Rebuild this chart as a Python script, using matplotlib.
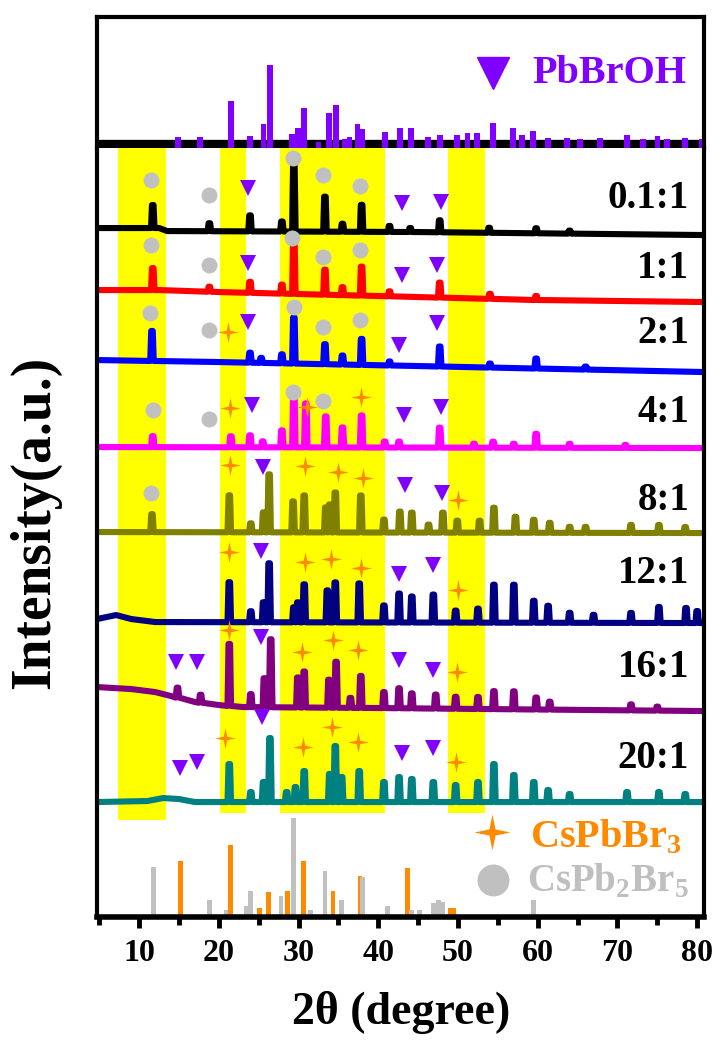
import numpy as np
import matplotlib.pyplot as plt
from matplotlib.path import Path

plt.rcParams['font.family'] = ['Liberation Serif', 'DejaVu Serif']
plt.rcParams['font.weight'] = 'bold'
plt.rcParams['mathtext.fontset'] = 'custom'
plt.rcParams['mathtext.rm'] = 'Liberation Serif:bold'
plt.rcParams['mathtext.bf'] = 'Liberation Serif:bold'

# ---- data ----
samples = ['0.1:1', '1:1', '2:1', '4:1', '8:1', '12:1', '16:1', '20:1']
colors = ['black', '#FF0000', '#0000FF', '#FF00FF', '#808000', '#000080', '#800080', '#008080']
offsets = [682, 615, 545, 469, 384, 294, 206, 115]
label_h = [37, 34, 39, 36, 33, 50, 44, 44]

# baseline anchors (2theta, a.u. above offset)
base_x = [
    [4.7, 12.5, 13.5, 45, 80.8],
    [4.7, 12.5, 20, 40, 60, 80.8],
    [4.7, 20, 45, 80.8],
    [4.7, 80.8],
    [4.7, 80.8],
    [4.7, 7.1, 9, 12, 80.8],
    [4.7, 9, 12, 14, 17, 20, 23, 40, 80.8],
    [4.7, 11, 13, 15, 17, 80.8],
]
base_y = [
    [7, 7, 4, 3, 0],
    [12, 12, 10, 6, 2, 0],
    [12, 10, 6, 0],
    [1, 0],
    [1, 0],
    [4, 8, 4, 1, 0],
    [24, 22, 19, 15, 9, 6, 4, 3, 0],
    [0, 1, 4, 3, 0, 0],
]

# peak positions and heights above local baseline
peak_x = [
    [11.7, 18.8, 23.9, 27.9, 29.4, 33.3, 35.5, 37.9, 41.4, 44.0, 47.7, 53.9, 59.8, 64.0],
    [11.7, 18.8, 23.9, 27.9, 29.4, 33.3, 35.5, 37.9, 41.4, 47.7, 54.0, 59.8],
    [11.6, 23.9, 25.3, 27.9, 29.4, 33.3, 35.5, 37.9, 41.4, 47.7, 54.0, 59.8, 66.0],
    [11.7, 21.5, 23.9, 25.5, 27.9, 29.4, 30.9, 33.4, 35.5, 37.9, 40.8, 42.6, 47.7, 52.0,
     54.4, 57.0, 59.8, 64.0, 71.0],
    [11.6, 21.3, 24.0, 25.6, 26.3, 29.3, 30.7, 33.4, 33.9, 34.6, 37.8, 40.7, 42.7, 44.2,
     46.3, 48.1, 49.9, 52.7, 54.5, 57.2, 59.5, 61.5, 64.0, 66.0, 71.7, 75.2, 78.5],
    [21.3, 24.0, 25.6, 26.3, 29.4, 29.9, 30.7, 33.6, 34.6, 37.6, 40.7, 42.6, 44.2, 46.9,
     49.7, 52.5, 54.5, 57.0, 59.5, 61.3, 64.0, 67.0, 71.7, 75.2, 78.6, 80.0],
    [14.8, 17.7, 21.3, 24.0, 25.7, 26.5, 29.9, 30.7, 33.8, 34.7, 36.5, 37.8, 40.7, 42.6,
     44.2, 47.2, 49.7, 52.5, 54.5, 57.0, 59.8, 61.5, 71.7, 75.0],
    [21.3, 24.0, 25.6, 26.4, 28.5, 29.6, 30.7, 33.9, 34.6, 35.4, 37.6, 40.7, 42.6, 44.2,
     46.9, 49.7, 52.5, 54.5, 57.0, 59.5, 61.3, 64.0, 71.2, 75.2, 78.5],
]
peak_h = [
    [23, 8, 16, 10, 66, 35, 8, 27, 6, 4, 12, 5, 5, 3],
    [22, 5, 11, 9, 55, 25, 8, 29, 5, 15, 5, 4],
    [30, 10, 5, 9, 46, 20, 9, 26, 4, 20, 4, 10, 3],
    [11, 11, 12, 6, 17, 52, 44, 31, 20, 32, 6, 6, 20, 4, 6, 4, 14, 4, 3],
    [18, 37, 9, 20, 58, 31, 37, 25, 28, 40, 37, 13, 21, 20, 8, 20, 12, 12, 25, 16, 13,
     10, 6, 6, 8, 8, 6],
    [40, 11, 20, 59, 15, 20, 38, 32, 40, 39, 17, 29, 26, 28, 12, 14, 38, 38, 22, 17, 10,
     8, 10, 16, 15, 12],
    [10, 8, 62, 13, 29, 68, 30, 36, 28, 46, 10, 32, 16, 20, 15, 14, 12, 12, 18, 18, 12,
     8, 6, 4],
    [38, 10, 20, 64, 10, 15, 31, 28, 56, 25, 31, 20, 25, 23, 20, 17, 20, 38, 27, 20, 12,
     8, 10, 10, 8],
]

# phase markers above the patterns (2theta, a.u. above offset)
circ_marks = [
    [(11.5, 55), (18.7, 40), (29.3, 77), (33.1, 60), (37.7, 49)],
    [(11.5, 57), (18.7, 37), (29.2, 64), (33.0, 45), (37.7, 52)],
    [(11.4, 59), (18.7, 42), (29.4, 65), (33.1, 45), (37.7, 52)],
    [(11.7, 38), (18.7, 29), (29.3, 56), (33.0, 47)],
    [(11.5, 40)],
    [], [], [],
]
star_marks = [
    [], [],
    [(21.2, 40)],
    [(21.4, 40), (31.0, 41), (37.8, 51)],
    [(21.4, 68), (30.8, 67), (35.0, 61), (38.1, 55), (50.0, 33)],
    [(21.3, 71), (30.8, 61), (34.0, 64), (37.8, 55), (50.0, 33)],
    [(21.3, 81), (30.4, 59), (34.3, 71), (37.5, 61), (49.9, 39)],
    [(20.8, 64), (30.5, 55), (34.2, 75), (37.4, 60), (49.7, 40)],
]
tri_marks = [
    [(23.7, 47), (43.0, 32), (47.9, 33)],
    [(23.7, 39), (43.0, 27), (47.4, 37)],
    [(23.7, 50), (42.6, 27), (47.4, 49)],
    [(24.2, 43), (43.2, 33), (47.9, 41)],
    [(25.5, 66), (43.3, 48), (48.0, 40)],
    [(25.3, 72), (42.6, 49), (46.8, 58)],
    [(14.6, 49), (17.3, 49), (25.3, 74), (42.6, 51), (46.8, 41)],
    [(15.1, 34), (17.3, 40), (25.4, 85), (43.0, 49), (46.8, 54)],
]

# reference patterns
pbbroh_x = [14.9, 17.6, 21.5, 23.9, 25.6, 26.4, 29.2, 29.9, 30.7, 32.5, 33.8, 34.7, 35.8,
            36.4, 37.4, 38.0, 40.8, 42.7, 44.1, 46.2, 47.7, 49.9, 51.2, 52.4, 54.4, 56.9,
            58.0, 59.4, 61.3, 63.7, 65.3, 67.8, 71.2, 73.2, 75.0, 76.2, 78.5, 80.6]
pbbroh_y = [11, 11, 47, 12, 24, 83, 14, 20, 40, 6, 35, 43, 9, 11, 24, 19, 16, 20, 20, 11,
            13, 13, 15, 15, 25, 20, 13, 17, 10, 10, 9, 10, 13, 9, 12, 9, 10, 9]
cspbbr3_x = [15.2, 21.5, 25.1, 26.2, 28.6, 30.6, 34.3, 37.7, 43.7, 49.0, 49.5]
cspbbr3_y = [56, 72, 9, 25, 26, 56, 26, 41, 49, 9, 9]
cspb2br5_x = [11.75, 18.8, 20.9, 23.4, 24.0, 27.8, 29.4, 31.5, 33.3, 35.4, 38.0, 41.1,
              44.2, 45.2, 46.9, 47.5, 48.0, 59.5]
cspb2br5_y = [50, 17, 7, 11, 26, 21, 99, 7, 46, 17, 40, 11, 7, 7, 14, 17, 15, 17]

bands = [(7.3, 13.35), (20.1, 23.4), (27.65, 40.85), (48.7, 53.4)]

violet = '#8000FF'
orange = '#FF8A00'
grey = '#C0C0C0'
star = Path([(0, 1), (0.17, 0.17), (1, 0), (0.17, -0.17), (0, -1), (-0.17, -0.17),
             (-1, 0), (-0.17, 0.17), (0, 1)])


def trace(i):
    bx, by = base_x[i], base_y[i]
    pts = list(zip(bx, by))
    for p, h in zip(peak_x[i], peak_h[i]):
        b = np.interp(p, bx, by)
        pts += [(p - 0.22, b), (p - 0.1, b + h), (p + 0.1, b + h), (p + 0.22, b)]
    pts.sort()
    x = np.array([q[0] for q in pts])
    y = np.array([q[1] for q in pts]) + offsets[i]
    return x, y


fig = plt.figure(figsize=(7.2, 10.44), dpi=100)
ax_top = fig.add_axes([0.1347, 0.8582, 0.843, 0.1255])
ax = fig.add_axes([0.1347, 0.1216, 0.843, 0.7366])
xlim = (4.7, 80.85)

# top panel: PbBrOH reference
ax_top.set_xlim(*xlim)
ax_top.set_ylim(0, 131)
ax_top.axhline(4, color='black', lw=6, zorder=1)
ax_top.bar(pbbroh_x, pbbroh_y, width=0.7, color=violet, zorder=2)
ax_top.plot(54.4, 75, 'v', color=violet, ms=23, zorder=3)
ax_top.text(59.3, 75, 'PbBrOH', color=violet, fontsize=29, va='center', ha='left')
ax_top.set_xticks([])
ax_top.set_yticks([])
ax_top.spines['bottom'].set_visible(False)
for s in ['top', 'left', 'right']:
    ax_top.spines[s].set_linewidth(3)

# main panel
ax.set_xlim(*xlim)
ax.set_ylim(0, 769)
for k, (a, b) in enumerate(bands):
    ax.axvspan(a, b, ymin=0.126 if k == 0 else 0.135, ymax=1, color='#FFFF00', lw=0, zorder=0)

for i in range(len(samples)):
    x, y = trace(i)
    ax.plot(x, y, color=colors[i], lw=4.4, solid_joinstyle='round', solid_capstyle='round',
            zorder=2)
    ax.text(79.0, offsets[i] + label_h[i], samples[i], fontsize=28, ha='right', va='center',
            color='black', zorder=4)
    for px, h in circ_marks[i]:
        ax.plot(px, offsets[i] + h, 'o', color=grey, ms=11.5, mew=0, zorder=3)
    for px, h in star_marks[i]:
        ax.plot(px, offsets[i] + h, marker=star, color=orange, ms=15, mew=0, zorder=3)
    for px, h in tri_marks[i]:
        ax.plot(px, offsets[i] + h, 'v', color=violet, ms=12, mew=0, zorder=3)

# bottom references
ax.bar(cspbbr3_x, cspbbr3_y, width=0.6, color=orange, zorder=2)
ax.bar(cspb2br5_x, cspb2br5_y, width=0.6, color=grey, zorder=2)
ax.plot(54.2, 85, marker=star, color=orange, ms=26, mew=0, ls='none')
ax.plot(54.4, 37, 'o', color=grey, ms=23, mew=0, ls='none')
ax.text(59.0, 80, r'CsPbBr$_\mathbf{3}$', color=orange, fontsize=29, va='center', ha='left')
ax.text(58.6, 35, r'CsPb$_\mathbf{2}$Br$_\mathbf{5}$', color='#BFBFBF', fontsize=28,
        va='center', ha='left')

ax.spines['top'].set_visible(False)
for s in ['left', 'right']:
    ax.spines[s].set_linewidth(3)
ax.spines['bottom'].set_linewidth(4)
ax.set_yticks([])
ax.set_xticks(range(10, 81, 10))
ax.set_xticks(range(5, 80, 10), minor=True)
ax.tick_params(axis='x', which='major', direction='out', length=8, width=3.5, labelsize=23,
               pad=8)
ax.tick_params(axis='x', which='minor', direction='out', length=6, width=3.5)

fig.text(0.5566, 1 - 1013 / 1044, '2θ (degree)', fontsize=33, ha='center', va='center')
fig.text(35 / 720, 1 - 522 / 1044, 'Intensity(a.u.)', fontsize=40, rotation=90,
         ha='center', va='center')

fig.savefig('out.png', dpi=100)
